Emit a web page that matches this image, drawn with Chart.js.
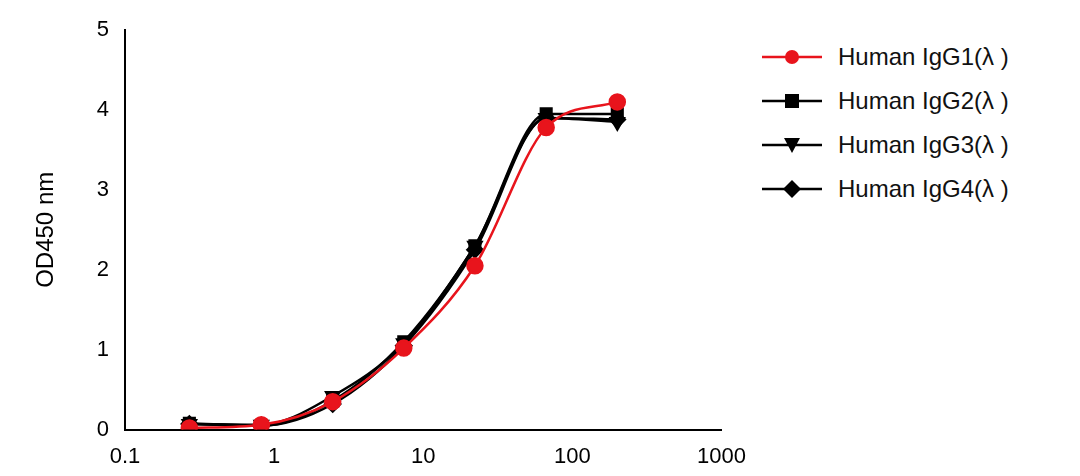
<!DOCTYPE html>
<html><head><meta charset="utf-8">
<script src="https://cdn.jsdelivr.net/npm/chart.js@4"></script>
<style>
body{margin:0;background:#fff;width:1080px;height:476px;overflow:hidden;font-family:"Liberation Sans",Arial,sans-serif}
#wrap{position:absolute;left:0;top:0;width:750px;height:476px}
#legend{position:absolute;left:762px;top:35px}
.row{display:flex;align-items:center;height:44px;font-size:24px;color:#111}
.row svg{margin-right:16px}
</style></head><body>
<div id="wrap"><canvas id="c"></canvas></div>
<div id="legend"></div>
<script>
const conc = [0.27, 0.82, 2.47, 7.4, 22.2, 66.7, 200];
const names = ["Human IgG1(λ )","Human IgG2(λ )","Human IgG3(λ )","Human IgG4(λ )"];
const igg1 = [0.02, 0.06, 0.35, 1.02, 2.05, 3.78, 4.10];
const igg2 = [0.08, 0.05, 0.36, 1.10, 2.30, 3.95, 3.95];
const igg3 = [0.07, 0.06, 0.42, 1.08, 2.30, 3.90, 3.85];
const igg4 = [0.07, 0.05, 0.32, 1.05, 2.25, 3.90, 3.88];
const xTicks = [0.1, 1, 10, 100, 1000];
const yTicks = [0,1,2,3,4,5];
const colors = ["#e8141c","#000","#000","#000"];
const styles = ["circle","rect","triangle","rectRot"];
const series = [igg1,igg2,igg3,igg4];
const ds = series.map((s,i)=>({
  label:names[i], data:conc.map((x,j)=>({x, y:s[j]})),
  showLine:true, borderColor:colors[i], backgroundColor:colors[i], borderWidth:2.5,
  pointStyle:styles[i], pointRadius:7.5, rotation: i===2?180:0, cubicInterpolationMode:'monotone'
}));
new Chart(document.getElementById('c'),{
  type:'scatter',
  data:{datasets:ds},
  options:{responsive:true,maintainAspectRatio:false,animation:false,
    layout:{padding:{top:30,right:20,left:28,bottom:2}},
    plugins:{legend:{display:false},tooltip:{enabled:false}},
    scales:{
      x:{type:'logarithmic',min:0.1,max:1000,
        afterBuildTicks:a=>{a.ticks=xTicks.map(v=>({value:v}));},
        ticks:{color:'#000',font:{size:22},callback:v=>String(v),autoSkip:false,maxRotation:0,padding:4},
        grid:{display:false,drawTicks:true,tickLength:10,tickColor:'#000',tickWidth:2},
        border:{color:'#000',width:2}},
      y:{min:0,max:5,
        afterBuildTicks:a=>{a.ticks=yTicks.map(v=>({value:v}));},
        ticks:{color:'#000',font:{size:22},padding:6},
        title:{display:true,text:'OD450 nm',color:'#000',font:{size:24},padding:{bottom:30}},
        grid:{display:false,drawTicks:true,tickLength:10,tickColor:'#000',tickWidth:2},
        border:{color:'#000',width:2}}
    }}
});
const shapes=[
 c=>`<circle cx="30" cy="12" r="7" fill="${c}"/>`,
 c=>`<rect x="23" y="5" width="14" height="14" fill="${c}"/>`,
 c=>`<polygon points="22,5 38,5 30,20" fill="${c}"/>`,
 c=>`<polygon points="30,3 39,12 30,21 21,12" fill="${c}"/>`];
document.getElementById('legend').innerHTML=names.map((n,i)=>
 `<div class="row"><svg width="60" height="24"><line x1="0" y1="12" x2="60" y2="12" stroke="${colors[i]}" stroke-width="2.5"/>${shapes[i](colors[i])}</svg><span>${n}</span></div>`).join('');
</script></body></html>
